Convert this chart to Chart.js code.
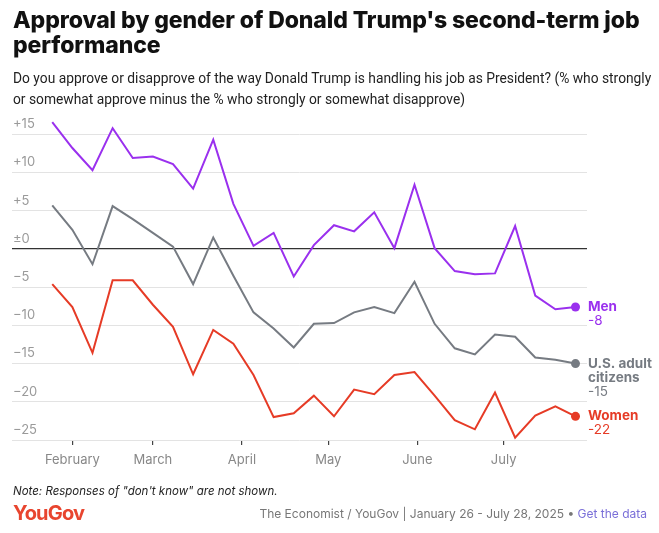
<!DOCTYPE html>
<html>
<head>
<meta charset="utf-8">
<script src="https://cdn.jsdelivr.net/npm/chart.js@4"></script>
<style>
  html, body { margin:0; padding:0; background:#fff; }
  body { width:659px; height:533px; position:relative; overflow:hidden; font-family:Inter, "Noto Sans", sans-serif; }
  #chart { position:absolute; left:0; top:0; }
  .title { position:absolute; left:13px; top:8px; width:645px; font-size:23px; line-height:25px; font-weight:800; color:#111; letter-spacing:-0.1px; }
  .sub { position:absolute; left:13px; top:68px; width:642px; font-family:Roboto, Inter, sans-serif; font-size:13.8px; line-height:21px; color:#222; }
  .note { position:absolute; left:13px; top:484px; font-size:11.5px; font-style:italic; color:#222; }
  .logo { position:absolute; left:13px; top:501px; font-size:20px; font-weight:700; color:#e8452f; letter-spacing:-0.8px; }
  .src { position:absolute; right:12px; top:506px; font-size:12px; color:#777; }
  .src span { color:#7a6fd8; }
</style>
</head>
<body>
<canvas id="chart" width="659" height="533"></canvas>
<div class="title">Approval by gender of Donald Trump's second-term job performance</div>
<div class="sub">Do you approve or disapprove of the way Donald Trump is handling his job as President? (% who strongly or somewhat approve minus the % who strongly or somewhat disapprove)</div>
<div class="note">Note: Responses of "don't know" are not shown.</div>
<div class="logo">YouGov</div>
<div class="src">The Economist / YouGov | January 26 - July 28, 2025 • <span>Get the data</span></div>

<script>
/* ── data ── */
var pollDates = ['2025-01-25','2025-02-01','2025-02-08','2025-02-15','2025-02-22','2025-03-01','2025-03-08',
  '2025-03-15','2025-03-22','2025-03-29','2025-04-05','2025-04-12','2025-04-19','2025-04-26','2025-05-03',
  '2025-05-10','2025-05-17','2025-05-24','2025-05-31','2025-06-07','2025-06-14','2025-06-21','2025-06-28',
  '2025-07-05','2025-07-12','2025-07-19','2025-07-26'];
var menNet = [16.6,13.2,10.3,15.8,11.9,12.1,11.1,7.9,14.3,5.9,0.4,2.1,-3.6,0.5,3.1,2.3,4.8,0.1,8.4,0.1,-2.9,-3.3,-3.2,3.0,-6.1,-7.9,-7.6];
var allNet = [5.7,2.5,-2.0,5.6,3.9,2.1,0.3,-4.6,1.5,-3.5,-8.3,-10.4,-12.9,-9.8,-9.7,-8.3,-7.6,-8.4,-4.3,-9.8,-13.0,-13.8,-11.2,-11.5,-14.2,-14.5,-15.0];
var womenNet = [-4.6,-7.6,-13.6,-4.1,-4.1,-7.3,-10.2,-16.4,-10.6,-12.4,-16.5,-22.0,-21.5,-19.2,-21.9,-18.4,-19.0,-16.5,-16.1,-19.2,-22.4,-23.6,-18.8,-24.7,-21.8,-20.6,-21.9];
var seriesNames = ['Men','U.S. adult\ncitizens','Women'];
var seriesColors = ['#9a30ee','#767b82','#e63b26'];
var monthStarts = ['2025-02-01','2025-03-01','2025-04-01','2025-05-01','2025-06-01','2025-07-01'];
var monthLabels = ['February','March','April','May','June','July'];
var yTicks = [15,10,5,0,-5,-10,-15,-20,-25];

function dayOfYear(s){
  var d = new Date(s+'T00:00:00Z');
  return Math.round((d - Date.UTC(2025,0,1))/86400000);
}
var xs = pollDates.map(dayOfYear);
var monthDays = monthStarts.map(dayOfYear);

function pts(arr){ return arr.map(function(v,i){ return {x:xs[i], y:v}; }); }

function fmtY(v){
  if(v === 0) return '\u00b10';
  return v > 0 ? '+'+v : '\u2212'+Math.abs(v);
}

var endLabels = {
  id:'endLabels',
  afterDatasetsDraw:function(chart){
    var c = chart.ctx;
    chart.data.datasets.forEach(function(ds, i){
      var meta = chart.getDatasetMeta(i);
      var p = meta.data[meta.data.length-1];
      var vals = ds.data;
      var last = Math.round(vals[vals.length-1].y);
      var lines = seriesNames[i].split('\n');
      var x = chart.chartArea.right + 1;
      var y = p.y;
      c.save();
      c.fillStyle = seriesColors[i];
      c.textBaseline = 'middle';
      c.textAlign = 'left';
      c.font = '700 13.5px Inter, sans-serif';
      lines.forEach(function(t, k){ c.fillText(t, x, y + k*14); });
      c.font = '400 13.5px Inter, sans-serif';
      c.fillText(String(last), x, y + lines.length*14);
      c.restore();
    });
  }
};

function mkSet(arr, i){
  return {
    data: pts(arr),
    borderColor: seriesColors[i],
    backgroundColor: seriesColors[i],
    borderWidth: 2,
    tension: 0,
    pointRadius: function(ctx){ return ctx.dataIndex === arr.length-1 ? 4.5 : 0; },
    pointBorderWidth: 0,
    pointHoverRadius: 0
  };
}

new Chart(document.getElementById('chart'), {
  type:'line',
  data:{ datasets:[ mkSet(menNet,0), mkSet(allNet,1), mkSet(womenNet,2) ] },
  plugins:[endLabels],
  options:{
    responsive:false,
    animation:false,
    layout:{ padding:{ left:12, right:72, top:119, bottom:63 } },
    plugins:{ legend:{display:false}, tooltip:{enabled:false} },
    scales:{
      x:{
        type:'linear', min:10, max:210,
        afterBuildTicks:function(s){ s.ticks = monthDays.map(function(v){ return {value:v}; }); },
        afterFit:function(s){ s.height = 30; },
        border:{display:false},
        grid:{ drawOnChartArea:false, drawTicks:true, tickLength:5, color:'#444', lineWidth:1.2 },
        ticks:{
          padding:7, color:'#888', font:{ family:'Inter', size:13 },
          maxRotation:0, autoSkip:false,
          callback:function(v){ var k = monthDays.indexOf(v); return k >= 0 ? monthLabels[k] : ''; }
        }
      },
      y:{
        min:-25, max:17,
        afterBuildTicks:function(s){ s.ticks = yTicks.map(function(v){ return {value:v}; }); },
        afterFit:function(s){ s.width = 0; },
        border:{display:false},
        grid:{
          drawTicks:false,
          color:function(ctx){ return ctx.tick && ctx.tick.value === 0 ? '#333' : '#e3e3e3'; },
          lineWidth:function(ctx){ return ctx.tick && ctx.tick.value === 0 ? 1.2 : 1; }
        },
        ticks:{
          mirror:true, padding:1, labelOffset:-10, color:'#9a9a9a',
          font:{ family:'Inter', size:13 },
          callback:function(v){ return fmtY(v); }
        }
      }
    }
  }
});
</script>
</body>
</html>
